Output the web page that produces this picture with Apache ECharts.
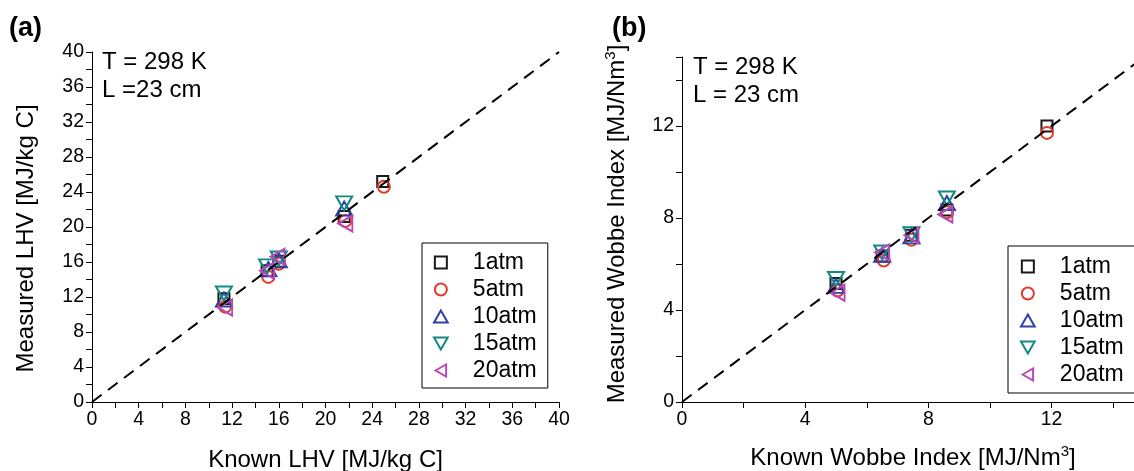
<!DOCTYPE html>
<html>
<head>
<meta charset="utf-8">
<title>LHV and Wobbe Index</title>
<script src="https://cdn.jsdelivr.net/npm/echarts@6/dist/echarts.min.js"></script>
<style>
  html, body { margin: 0; padding: 0; background: #fff; }
  #chart { width: 1134px; height: 471px; }
</style>
</head>
<body>
<div id="chart"></div>
<script>
// Pressure series
const seriesNames = ['1atm', '5atm', '10atm', '15atm', '20atm'];
const seriesColors = ['#1a1a1a', '#e5392b', '#3140a4', '#138a80', '#b84ab8'];

// (a) [known LHV, measured LHV] in MJ/kg C
const lhv1atm  = [[11.3, 11.8], [15.0, 15.0], [16.0, 16.1], [21.6, 21.2], [24.9, 25.2]];
const lhv5atm  = [[11.4, 10.9], [15.1, 14.3], [16.0, 15.8], [21.7, 20.7], [25.0, 24.6]];
const lhv10atm = [[11.3, 11.7], [15.1, 15.2], [16.0, 16.2], [21.6, 22.1]];
const lhv15atm = [[11.3, 12.4], [15.0, 15.5], [16.0, 16.4], [21.6, 22.7]];
const lhv20atm = [[11.4, 10.8], [15.0, 15.0], [15.9, 16.6], [21.7, 20.4]];

// (b) [known Wobbe index, measured Wobbe index] in MJ/Nm3
const wobbe1atm  = [[5.0, 5.15], [6.5, 6.35], [7.45, 7.25], [8.6, 8.35], [11.85, 12.0]];
const wobbe5atm  = [[5.05, 4.85], [6.55, 6.15], [7.45, 7.05], [8.6, 8.25], [11.85, 11.7]];
const wobbe10atm = [[5.0, 5.05], [6.5, 6.4], [7.45, 7.2], [8.6, 8.65]];
const wobbe15atm = [[5.0, 5.35], [6.5, 6.5], [7.45, 7.3], [8.6, 8.85]];
const wobbe20atm = [[5.05, 4.75], [6.5, 6.5], [7.45, 7.25], [8.55, 8.15]];

// y = x reference lines
const parityLhv = [[0, 0], [40, 40]];
const parityWobbe = [[0, 0], [15, 15]];

// Tick labels shown every 4 units (ticks every 2)
const lhvTickStep = 2, lhvLabelStep = 4;
const wobbeTickStep = 2, wobbeLabelStep = 4;

const FONT = 'Liberation Sans, Arial, Helvetica, sans-serif';

// hollow square, circle, up / down / left triangles
const symbols = [
  'path://M0,0L10,0L10,10L0,10Z',
  'circle',
  'path://M8,0L16,14L0,14Z',
  'path://M0,0L16,0L8,14Z',
  'path://M0,8L14,0L14,16Z'
];
const symbolSizes = [[11, 11], 12, [16, 14], [16, 14], [14, 16]];

const lhvSets = [lhv1atm, lhv5atm, lhv10atm, lhv15atm, lhv20atm];
const wobbeSets = [wobbe1atm, wobbe5atm, wobbe10atm, wobbe15atm, wobbe20atm];

function scatterSeries(sets, axisIndex) {
  return sets.map((d, i) => ({
    type: 'scatter',
    name: seriesNames[i],
    xAxisIndex: axisIndex,
    yAxisIndex: axisIndex,
    data: d,
    symbol: symbols[i],
    symbolSize: symbolSizes[i],
    itemStyle: { color: 'rgba(0,0,0,0)', borderColor: seriesColors[i], borderWidth: 2, opacity: 1 },
    z: 2
  }));
}

function parityLine(d, axisIndex) {
  return {
    type: 'line',
    name: 'parity',
    xAxisIndex: axisIndex,
    yAxisIndex: axisIndex,
    data: d,
    showSymbol: false,
    silent: true,
    lineStyle: { color: '#000', width: 2, type: [12, 8] },
    z: 3
  };
}

function valueAxis(gridIndex, max, step, labelStep, extra) {
  return Object.assign({
    type: 'value',
    gridIndex: gridIndex,
    min: 0,
    max: max,
    interval: step,
    splitLine: { show: false },
    axisLine: { show: true, onZero: false, lineStyle: { color: '#000', width: 1 } },
    axisTick: { show: true, length: 6, lineStyle: { color: '#000', width: 1 } },
    axisLabel: {
      color: '#000', fontSize: 19.5, fontFamily: FONT,
      formatter: v => (Math.abs(v % labelStep) < 1e-9 ? String(v) : '')
    },
    nameLocation: 'middle'
  }, extra);
}

const titleStyle = {
  color: '#000', fontSize: 24, fontFamily: FONT,
  rich: { sup: { fontSize: 15, fontFamily: FONT, color: '#000', padding: [0, 0, 14, 0] } }
};

function legendFor(left, top, pad) {
  return {
    data: seriesNames,
    orient: 'vertical',
    left: left,
    top: top,
    padding: pad,
    itemGap: 0,
    itemWidth: 28,
    itemHeight: 12,
    backgroundColor: '#fff',
    borderColor: '#000',
    borderWidth: 1,
    borderRadius: 0,
    selectedMode: false,
    textStyle: { color: '#000', fontSize: 23, fontFamily: FONT, lineHeight: 27, padding: [0, 0, 0, 13] }
  };
}

const chart = echarts.init(document.getElementById('chart'), null, { renderer: 'canvas' });

chart.setOption({
  backgroundColor: '#fff',
  animation: false,
  grid: [
    { left: 92, top: 52, width: 467, height: 350, outerBoundsMode: 'none', containLabel: false },
    { left: 682, top: 57, width: 462, height: 345, outerBoundsMode: 'none', containLabel: false }
  ],
  xAxis: [
    valueAxis(0, 40, lhvTickStep, lhvLabelStep, {
      name: 'Known LHV [MJ/kg C]', nameGap: 46, nameTextStyle: titleStyle
    }),
    valueAxis(1, 15, wobbeTickStep, wobbeLabelStep, {
      name: 'Known Wobbe Index [MJ/Nm{sup|3}]', nameGap: 42, nameTextStyle: titleStyle
    })
  ],
  yAxis: [
    valueAxis(0, 40, lhvTickStep, lhvLabelStep, {
      name: 'Measured LHV [MJ/kg C]', nameGap: 54,
      nameTextStyle: Object.assign({}, titleStyle, { padding: [0, 23, 0, 0] })
    }),
    valueAxis(1, 15, wobbeTickStep, wobbeLabelStep, {
      name: 'Measured Wobbe Index [MJ/Nm{sup|3}]', nameGap: 50,
      nameTextStyle: Object.assign({}, titleStyle, { padding: [0, 0, 0, 11] })
    })
  ],
  legend: [
    legendFor(422, 243, [6, 11, 4, 11]),
    legendFor(1008, 246, [7, 30, 5, 12])
  ],
  graphic: [
    { type: 'text', left: 9, top: 15, style: { text: '(a)', fontSize: 27, fontWeight: 'bold', fontFamily: FONT, fill: '#000' } },
    { type: 'text', left: 612, top: 15, style: { text: '(b)', fontSize: 27, fontWeight: 'bold', fontFamily: FONT, fill: '#000' } },
    { type: 'text', left: 102, top: 50, style: { text: 'T = 298 K', fontSize: 24, fontFamily: FONT, fill: '#000' } },
    { type: 'text', left: 102, top: 78, style: { text: 'L =23 cm', fontSize: 24, fontFamily: FONT, fill: '#000' } },
    { type: 'text', left: 693, top: 55, style: { text: 'T = 298 K', fontSize: 24, fontFamily: FONT, fill: '#000' } },
    { type: 'text', left: 693, top: 83, style: { text: 'L = 23 cm', fontSize: 24, fontFamily: FONT, fill: '#000' } }
  ],
  series: [
    ...scatterSeries(lhvSets, 0),
    parityLine(parityLhv, 0),
    ...scatterSeries(wobbeSets, 1),
    parityLine(parityWobbe, 1)
  ]
});
</script>
</body>
</html>
